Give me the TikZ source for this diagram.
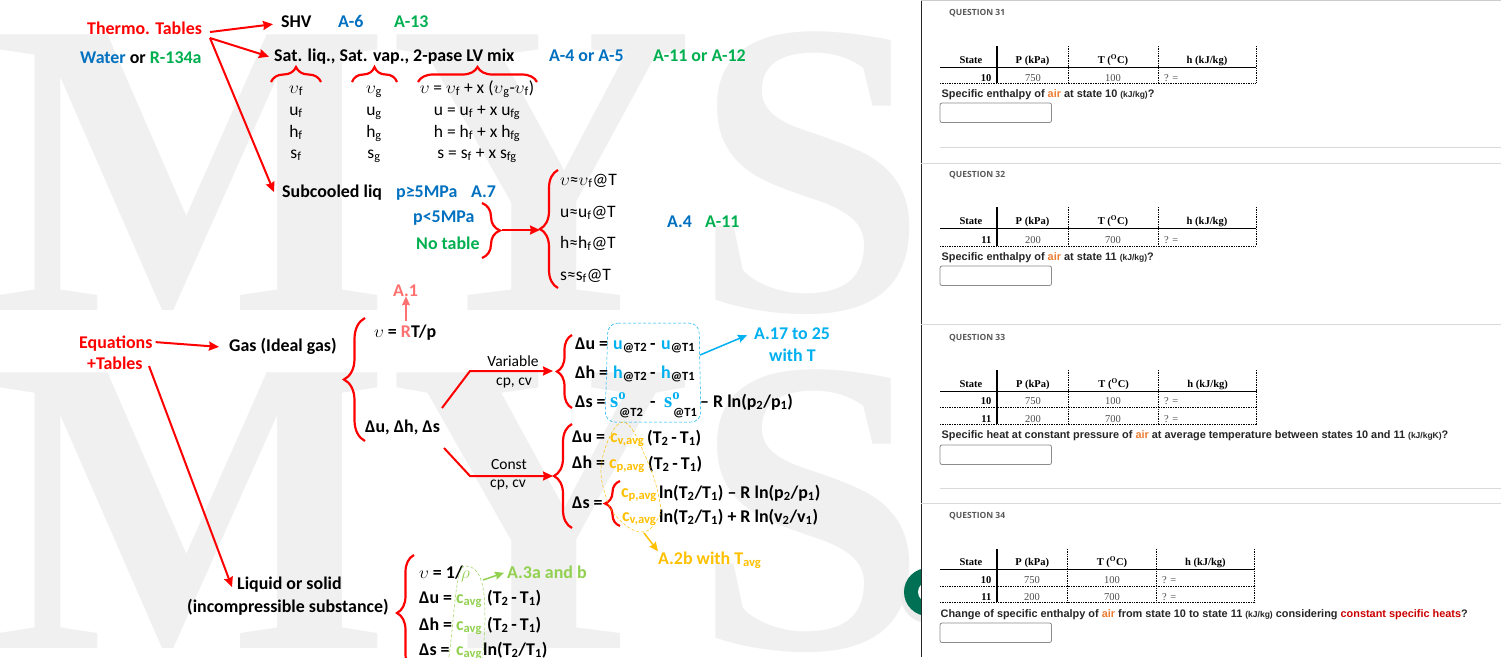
\documentclass[tikz,border=0pt]{standalone}
\usepackage{fontspec}
\setmainfont{Carlito}
\newfontfamily\tabfont{Liberation Serif}
\newfontfamily\askfont{Liberation Sans}
\newfontfamily\headfont{Open Sans}
\usetikzlibrary{arrows.meta,decorations.pathreplacing}
\definecolor{mblue}{RGB}{0,112,192}
\definecolor{mgreen}{RGB}{0,176,80}
\definecolor{mcyan}{RGB}{0,176,240}
\definecolor{morange}{RGB}{255,192,0}
\definecolor{mlime}{RGB}{146,208,80}
\definecolor{mpink}{RGB}{255,112,112}
\definecolor{mwater}{RGB}{240,240,240}
\definecolor{mair}{RGB}{237,125,49}
\definecolor{mbutton}{RGB}{0,112,84}
\newcommand{\low}[1]{\textsubscript{#1}}
\newcommand{\vv}{$\upsilon$}
\newcommand{\tdiff}{(T\low{2}\,-\,T\low{1})}
\newcommand{\unitsize}[1]{{\fontsize{8.5}{10}\selectfont#1}}
\tikzset{
  bold/.style={inner sep=0pt,anchor=base west,font=\bfseries\fontsize{17.9}{20}\selectfont},
  thin/.style={inner sep=0pt,anchor=base,font=\fontsize{17.5}{20}\selectfont},
  small/.style={inner sep=0pt,anchor=base,font=\fontsize{15.5}{18}\selectfont},
  atsub/.style={inner sep=0pt,anchor=base west,font=\bfseries\fontsize{12.5}{14}\selectfont},
  wmark/.style={inner sep=0pt,anchor=base west,mwater,font=\tabfont\bfseries\fontsize{421}{421}\selectfont},
  curly/.style={decorate,decoration={brace,amplitude=#1,aspect=0.5},red,line width=2.2pt},
  redarrow/.style={-{Stealth[length=10pt,width=9pt,inset=1pt]},red,line width=2pt},
  liftarrow/.style={-{Stealth[length=9pt,width=8pt,inset=1pt]},line width=1.5pt},
  dashloop/.style={densely dashed,line width=0.5pt},
  qtitle/.style={inner sep=0pt,anchor=base west,gray!70!black,font=\headfont\bfseries\fontsize{8.5}{10}\selectfont},
  qtext/.style={inner sep=0pt,anchor=base west,black!85,font=\askfont\bfseries\fontsize{10.9}{12}\selectfont},
  qhead/.style={inner sep=0pt,anchor=base,font=\tabfont\bfseries\fontsize{10.5}{12}\selectfont},
  qcell/.style={inner sep=0pt,anchor=base,black!70,font=\tabfont\fontsize{10.5}{12}\selectfont},
  ansbox/.style={draw=black!45,fill=white,line width=0.8pt,rounded corners=2pt},
}
\begin{document}
\begin{tikzpicture}[x=1pt,y=-1pt]
  \useasboundingbox (0,0) rectangle (1501,657);
  \fill[white] (0,0) rectangle (1501,657);

  %watermark, two rows
  \begin{scope}
    \clip (0,0) rectangle (921,657);
    \node[wmark] (markA) at (-8,310) {MYS};
    \node[wmark] (markB) at (-8,648) {MYS};
    %round button behind the right panel
    \fill[black!8] (928,596) circle (27);
    \fill[mbutton] (928,592) circle (24);
    \fill[white] (928,592) circle (10);
  \end{scope}

  %right panel
  \fill[white] (921,0) rectangle (1501,657);
  \draw[black!85,line width=0.8pt] (921.5,0) -- (921.5,657);
  \draw[black!20,line width=1pt] (921,0.5) -- (1501,0.5);
  \foreach \ysep in {163,324.5,503}
    \draw[black!15,line width=1pt] (921,\ysep) -- (1501,\ysep);
  \foreach \ysep in {147,488}
    \draw[black!15,line width=0.8pt] (940,\ysep) -- (1501,\ysep);

  %table frames and headers
  \foreach \q/\yt/\ya/\yb/\yc/\ybox/\xb/\xc/\xd in
    {31/15/46/67/83/103/1068/1158/1256,
     32/177/207/228/246/266/1068/1158/1256,
     33/340/370/391/424/445/1068.6/1158.7/1256.5,
     34/518/549/569/602/623/1067.5/1156.4/1254.5}{
    \node[qtitle] (title\q) at (949,\yt) {QUESTION \q};
    \draw[black,line width=1.2pt] (997,\ya) -- (997,\yc);
    \draw[black,line width=0.8pt] (940,\yb) -- (\xd,\yb);
    \draw[black,line width=0.7pt,densely dotted] (940,\yc) -- (\xd,\yc);
    \foreach \xv in {\xb,\xc,\xd}
      \draw[black,line width=0.7pt,densely dotted] (\xv,\ya) -- (\xv,\yc);
    \node[qhead] (state\q) at (971,\yb-3.5) {State};
    \node[qhead] (press\q) at ({(997+\xb)/2},\yb-3.5) {P (kPa)};
    \node[qhead] (temp\q) at ({(\xb+\xc)/2},\yb-3.5) {T (\textsuperscript{O}C)};
    \node[qhead] (enth\q) at ({(\xc+\xd)/2},\yb-3.5) {h (kJ/kg)};
    \draw[ansbox] (940,\ybox) rectangle (1051.5,\ybox+19.5);
  }

  %table rows
  \foreach \n/\yr/\xa/\xb/\xc/\st/\pv/\tv in
    {a/81/1033/1113/1164/10/750/100, b/243/1033/1113/1164/11/200/700,
     c/404.5/1033/1113/1164/10/750/100, d/422/1033/1113/1164/11/200/700,
     e/583/1032/1112/1162/10/750/100, f/600/1032/1112/1162/11/200/700}{
    \node[qhead,anchor=base east] (st\n) at (991.5,\yr) {\st};
    \node[qcell] (pv\n) at (\xa,\yr) {\pv};
    \node[qcell] (tv\n) at (\xb,\yr) {\tv};
    \node[qcell,anchor=base west] (hv\n) at (\xc,\yr) {? =};
  }
  \draw[black,line width=0.7pt,densely dotted] (940,407) -- (1256.5,407);
  \draw[black,line width=0.7pt,densely dotted] (940,586) -- (1254.5,586);

  %question lines
  \node[qtext] (askA) at (941.5,97) {Specific enthalpy of \textcolor{mair}{air} at state 10 \unitsize{(kJ/kg)}?};
  \node[qtext] (askB) at (941.5,260) {Specific enthalpy of \textcolor{mair}{air} at state 11 \unitsize{(kJ/kg)}?};
  \node[qtext] (askC) at (941.5,438) {Specific heat at constant pressure of \textcolor{mair}{air} at average temperature between states 10 and 11 \unitsize{(kJ/kgK)}?};
  \node[qtext] (askD) at (940.5,617) {Change of specific enthalpy of \textcolor{mair}{air} from state 10 to state 11 \unitsize{(kJ/kg)} considering \textcolor{red!80!black}{constant specific heats}?};

  %thermo tables
  \node[bold,red] (thermo) at (87,34) {Thermo. Tables};
  \node[bold] (water) at (80,63) {\textcolor{mblue}{Water} or \textcolor{mgreen}{R-134a}};
  \node[bold] (shv) at (281,27) {SHV};
  \node[bold,mblue] (a6) at (338,27) {A-6};
  \node[bold,mgreen] (a13) at (394,27) {A-13};
  \node[bold] (sat) at (274,61.5) {Sat. liq., Sat. vap., 2-pase LV mix};
  \node[bold,mblue] (a4) at (549,61.5) {A-4 or A-5};
  \node[bold,mgreen] (a11) at (653,61.5) {A-11 or A-12};
  \node[bold] (subc) at (282,197) {Subcooled liq};
  \node[bold,mblue] (pabove) at (396,197) {p≥5MPa};
  \node[bold,mblue] (a7) at (471,197) {A.7};
  \node[bold,mblue] (pbelow) at (413,222) {p<5MPa};
  \node[bold,mgreen] (notable) at (416,249) {No table};
  \draw[redarrow] (210,32) -- ([xshift=-8pt,yshift=-3pt]shv.west);
  \draw[redarrow] (210,38) -- ([xshift=-5pt]sat.west);
  \draw[redarrow] (210,38) -- ([xshift=-8pt]subc.west);

  %saturated columns
  \draw[curly=15pt] (271,82) -- (321,82);
  \draw[curly=15pt] (352,82) -- (397,82);
  \draw[curly=15pt] (418,82) -- (537,82);
  \node[thin] (vf) at (296,93) {\vv\low{f}};
  \node[thin] (vg) at (374,93) {\vv\low{g}};
  \node[thin] (vmix) at (477,93) {\vv{} = \vv\low{f} + x (\vv\low{g}-\vv\low{f})};
  \foreach \sym/\yrow in {u/115,h/137,s/158}{
    \node[thin] (\sym f) at (296,\yrow) {\sym\low{f}};
    \node[thin] (\sym g) at (374,\yrow) {\sym\low{g}};
    \node[thin] (\sym mix) at (477,\yrow) {\sym{} = \sym\low{f} + x \sym\low{fg}};
  }

  %subcooled
  \draw[curly=18pt] (482,203) -- (482,258);
  \coordinate (liqtip) at (502,230);
  \coordinate (approxtip) at (540,230);
  \draw[redarrow] (liqtip) -- (approxtip);
  \draw[curly=18pt] (558,288) -- (558,170);
  \node[thin,anchor=base west] (vapprox) at (560,185) {\vv≈\vv\low{f}@T};
  \foreach \sym/\yrow in {u/217,h/248,s/280}
    \node[thin,anchor=base west] (\sym approx) at (560,\yrow) {\sym≈\sym\low{f}@T};
  \node[bold,mblue] (a4b) at (667,227) {A.4};
  \node[bold,mgreen] (a11b) at (705,227) {A-11};

  %gas
  \node[bold,red] (eqn) at (79,348) {Equations};
  \node[bold,red] (tab) at (87,369) {+Tables};
  \node[bold] (gas) at (229,351) {Gas (Ideal gas)};
  \node[bold] (liq) at (237,589) {Liquid or solid};
  \node[bold] (incomp) at (187,612) {(incompressible substance)};
  \draw[redarrow] ([xshift=3pt,yshift=1pt]eqn.east) -- ([xshift=-10pt,yshift=-1pt]gas.west);
  \draw[redarrow] (149,366) -- ([xshift=-5pt,yshift=-3pt]liq.west);
  \draw[curly=21pt] (365,441) -- (365,318);
  \node[bold,mpink] (a1) at (393,296) {A.1};
  \node[bold] (rtp) at (374,337) {\vv{} = \textcolor{mpink}{R}T/p};
  \draw[liftarrow,mpink] (406,321) -- (a1.south -| 406,0);
  \node[bold] (dlt) at (365,432) {Δu, Δh, Δs};

  %variable cp cv
  \coordinate (varbend) at (470,371);
  \coordinate (varend) at (553,371);
  \draw[redarrow] (442,408) -- (varbend) -- (varend);
  \node[small] (varA) at (513,366) {Variable};
  \node[small] (varB) at (514,385) {cp, cv};
  \draw[curly=15pt] (572,408) -- (572,335);
  \foreach \sym/\yrow in {u/349,h/378}{
    \node[bold] (d\sym) at (575,\yrow) {Δ\sym{} =};
    \node[bold,mcyan] (\sym two) at (613,\yrow) {\sym\low{\textcolor{black}{@T2}}};
    \node[bold] (\sym dash) at (650,\yrow) {-};
    \node[bold,mcyan] (\sym one) at (661,\yrow) {\sym\low{\textcolor{black}{@T1}}};
  }
  \node[bold] (ds) at (575,407) {Δs =};
  \node[bold,mcyan,font=\tabfont\bfseries\fontsize{21}{22}\selectfont] (stwo) at (610,407) {s\textsuperscript{o}};
  \node[atsub] (stwolow) at (619,416) {@T2};
  \node[bold] (sdash) at (650,407) {-};
  \node[bold,mcyan,font=\tabfont\bfseries\fontsize{21}{22}\selectfont] (sone) at (664,407) {s\textsuperscript{o}};
  \node[atsub] (sonelow) at (673,416) {@T1};
  \node[bold] (srest) at (700,407) {-- R ln(p\low{2}/p\low{1})};
  \draw[mcyan,dashloop,rounded corners=10pt] (608,323) -- (699,323) -- (701,422) -- (605,422) -- cycle;
  \node[bold,mcyan] (a17) at (754,339) {A.17 to 25};
  \node[bold,mcyan] (witht) at (769,361) {with T};
  \draw[liftarrow,mcyan] (700,355) -- ([xshift=-7pt,yshift=-2pt]a17.west);

  %constant cp cv
  \coordinate (conbend) at (470,476);
  \coordinate (conend) at (553,476);
  \draw[redarrow] (444,448) -- (conbend) -- (conend);
  \node[small] (conA) at (509,469) {Const};
  \node[small] (conB) at (508,487) {cp, cv};
  \draw[curly=18pt] (572,528) -- (572,424);
  \node[bold] (cdu) at (572,442) {Δu =};
  \node[bold,morange] (cvavg) at (610,442) {c\low{v,avg}};
  \node[bold] (cduT) at (647,443) {\tdiff};
  \node[bold] (cdh) at (572,468) {Δh =};
  \node[bold,morange] (cpavg) at (609,468) {c\low{p,avg}};
  \node[bold] (cdhT) at (648,469) {\tdiff};
  \node[bold] (cds) at (572,508) {Δs =};
  \draw[curly=15pt] (620,526) -- (620,481);
  \node[bold,morange] (cpavgB) at (621,497) {c\low{p,avg}};
  \node[bold] (lnA) at (659,498) {ln(T\low{2}/T\low{1}) -- R ln(p\low{2}/p\low{1})};
  \node[bold,morange] (cvavgB) at (622,521) {c\low{v,avg}};
  \node[bold] (lnB) at (659,522) {ln(T\low{2}/T\low{1}) + R ln(v\low{2}/v\low{1})};
  \draw[morange,dashloop] plot[smooth cycle,tension=0.7] coordinates {(623,422) (602,460) (607,500) (623,523) (643,532) (657,520) (660,503) (647,460)};
  \node[bold,morange] (a2b) at (658,564) {A.2b with T\low{avg}};
  \draw[liftarrow,morange] (644,533) -- (a2b.north west);

  %liquid or solid
  \draw[curly=17pt] (414,671) -- (414,555);
  \node[bold] (rhoeq) at (419,578) {\vv{} = 1/};
  \node[bold,mlime] (rho) at (461,578) {$\rho$};
  \node[bold,mlime] (a3) at (507,578) {A.3a and b};
  \draw[liftarrow,mlime] (483,580) -- ([xshift=-3pt,yshift=-1pt]a3.west);
  \foreach \sym/\yrow in {u/603,h/630}{
    \node[bold] (ld\sym) at (419,\yrow) {Δ\sym{} =};
    \node[bold,mlime] (lc\sym) at (456,\yrow) {c\low{avg}};
    \node[bold] (lT\sym) at (487,\yrow) {\tdiff};
  }
  \node[bold] (lds) at (419,655) {Δs =};
  \node[bold,mlime] (lcs) at (456,655) {c\low{avg}};
  \node[bold] (lTs) at (483,655) {ln(T\low{2}/T\low{1})};
  \draw[mlime,dashloop] plot[smooth,tension=0.7] coordinates {(447,672) (451,640) (458,580) (467,566) (481,580) (485,620) (481,672)};
\end{tikzpicture}
\end{document}
